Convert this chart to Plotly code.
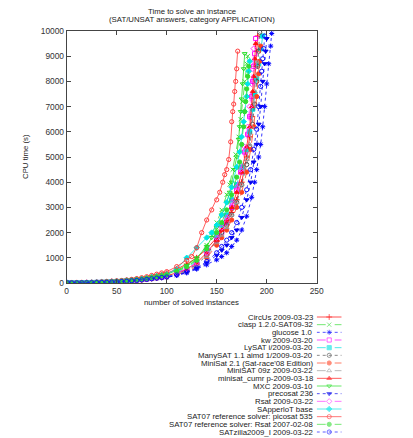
import plotly.graph_objects as go

W, H = 413, 438

names = [
    "CircUs 2009-03-23",
    "clasp 1.2.0-SAT09-32",
    "glucose 1.0",
    "kw 2009-03-20",
    "LySAT i/2009-03-20",
    "ManySAT 1.1 aimd 1/2009-03-20",
    "MiniSat 2.1 (Sat-race'08 Edition)",
    "MiniSAT 09z 2009-03-22",
    "minisat_cumr p-2009-03-18",
    "MXC 2009-03-10",
    "precosat 236",
    "Rsat 2009-03-22",
    "SApperloT base",
    "SAT07 reference solver: picosat 535",
    "SAT07 reference solver: Rsat 2007-02-08",
    "SATzilla2009_I 2009-03-22",
]

circus_x = [1, 5, 10, 15, 20, 25, 30, 35, 40, 45, 50, 55, 60, 65, 70, 75, 80, 85, 90, 95,
            100, 110, 120, 130, 140, 150, 155, 160, 165, 170, 175, 180, 183, 185, 187, 189, 190, 191]
circus_y = [2, 4, 7, 10, 15, 20, 26, 34, 45, 55, 66, 82, 100, 120, 140, 165, 200, 240, 285, 330,
            380, 550, 750, 1000, 1350, 1800, 2100, 2400, 2800, 3300, 4000, 5000, 5800, 6600, 7500, 8600, 9200, 9800]

clasp_x = [1, 5, 10, 15, 20, 25, 30, 35, 40, 45, 50, 55, 60, 65, 70, 75, 80, 85, 90, 95,
           100, 110, 120, 130, 140, 145, 150, 155, 160, 163, 166, 169, 172, 174, 176, 178, 180, 181]
clasp_y = [2, 4, 6, 9, 15, 19, 24, 31, 40, 50, 60, 74, 90, 108, 128, 152, 180, 215, 255, 290,
           330, 480, 650, 950, 1500, 1900, 2400, 2900, 3500, 3900, 4500, 5100, 5800, 6500, 7200, 8000, 8700, 9000]

glucose_x = [1, 5, 10, 15, 20, 25, 30, 35, 40, 45, 50, 55, 60, 65, 70, 75, 80, 85, 90, 95,
             100, 110, 120, 130, 140, 150, 155, 160, 165, 170, 175, 180, 185, 188, 190, 192, 194, 196, 198, 200, 202, 204, 205]
glucose_y = [2, 4, 6, 8, 10, 13, 17, 22, 30, 37, 45, 55, 70, 85, 100, 120, 140, 160, 180, 200,
             220, 300, 400, 550, 720, 920, 1050, 1200, 1450, 1700, 2100, 2650, 3400, 4000, 4500, 5000, 5500, 6200, 7000, 7900, 8700, 9400, 9900]

kw_x = [1, 5, 10, 15, 20, 25, 30, 35, 40, 45, 50, 55, 60, 65, 70, 75, 80, 85, 90, 95,
        100, 110, 120, 130, 140, 150, 155, 160, 165, 170, 174, 178, 181, 183, 185, 186, 187, 188, 189]
kw_y = [2, 4, 6, 9, 12, 16, 21, 28, 35, 44, 54, 66, 80, 96, 115, 136, 160, 190, 220, 250,
        280, 380, 520, 750, 1150, 1700, 2000, 2400, 3000, 3700, 4400, 5200, 5900, 6600, 7400, 8000, 8600, 9100, 9700]

lysat_x = [1, 5, 10, 15, 20, 25, 30, 35, 40, 45, 50, 55, 60, 65, 70, 75, 80, 85, 90, 95,
           100, 110, 120, 130, 140, 150, 155, 160, 165, 170, 175, 180, 183, 186, 188, 190, 192, 194, 196]
lysat_y = [2, 4, 7, 10, 14, 18, 24, 31, 40, 50, 60, 74, 90, 106, 125, 146, 170, 205, 240, 270,
           300, 420, 600, 850, 1300, 1900, 2300, 2700, 3300, 3900, 4600, 5300, 6000, 6900, 7500, 8100, 8700, 9300, 9800]

manysat_x = [1, 5, 10, 15, 20, 25, 30, 35, 40, 45, 50, 55, 60, 65, 70, 75, 80, 85, 90, 95,
             100, 110, 120, 130, 140, 150, 155, 160, 165, 170, 175, 180, 183, 186, 188, 190, 191, 192, 193]
manysat_y = [2, 4, 6, 9, 12, 16, 21, 28, 35, 44, 54, 66, 80, 95, 113, 135, 160, 185, 215, 240,
             270, 370, 500, 730, 1100, 1700, 2000, 2300, 2700, 3200, 3900, 4700, 5400, 6300, 7100, 8000, 8600, 9200, 9950]

minisat21_x = [1, 5, 10, 15, 20, 25, 30, 35, 40, 45, 50, 55, 60, 65, 70, 75, 80, 85, 90, 95,
               100, 110, 120, 130, 140, 150, 155, 160, 165, 170, 175, 180, 184, 187, 190, 192, 193, 194]
minisat21_y = [2, 3, 5, 8, 10, 13, 17, 23, 30, 37, 45, 57, 70, 84, 100, 120, 140, 165, 190, 215,
               240, 330, 450, 650, 1000, 1500, 1800, 2100, 2500, 3000, 3600, 4400, 5300, 6200, 7400, 8300, 8800, 9400]

minisat09z_x = [1, 5, 10, 15, 20, 25, 30, 35, 40, 45, 50, 55, 60, 65, 70, 75, 80, 85, 90, 95,
                100, 110, 120, 130, 140, 150, 155, 160, 165, 170, 175, 180, 183, 185, 187, 188, 189, 190]
minisat09z_y = [2, 4, 6, 9, 12, 15, 20, 26, 33, 41, 50, 62, 75, 90, 108, 128, 150, 175, 205, 230,
                260, 350, 480, 700, 1050, 1600, 1900, 2200, 2700, 3200, 3900, 4900, 5500, 6200, 7000, 7600, 8200, 8800]

cumr_x = [1, 5, 10, 15, 20, 25, 30, 35, 40, 45, 50, 55, 60, 65, 70, 75, 80, 85, 90, 95,
          100, 110, 120, 130, 140, 150, 155, 160, 165, 170, 175, 180, 183, 185, 186, 187, 188, 189]
cumr_y = [2, 4, 6, 9, 13, 17, 22, 29, 38, 47, 57, 70, 85, 102, 122, 145, 170, 200, 230, 260,
          290, 400, 550, 800, 1200, 1700, 2100, 2500, 3000, 3600, 4400, 5400, 6200, 7000, 7600, 8200, 8900, 9500]

mxc_x = [1, 5, 10, 15, 20, 25, 30, 35, 40, 45, 50, 55, 60, 65, 70, 75, 80, 85, 90, 95,
         100, 110, 120, 130, 140, 145, 150, 155, 160, 163, 165, 168, 170, 172, 173, 174, 175, 176, 177, 178]
mxc_y = [2, 4, 7, 10, 15, 19, 25, 33, 42, 52, 63, 78, 95, 113, 135, 160, 190, 225, 265, 300,
         340, 500, 700, 1000, 1450, 1800, 2200, 2700, 3200, 3600, 4000, 4500, 5000, 5700, 6200, 6800, 7300, 7900, 8500, 9100]

precosat_x = [1, 5, 10, 15, 20, 25, 30, 35, 40, 45, 50, 55, 60, 65, 70, 75, 80, 85, 90, 95,
              100, 110, 120, 130, 140, 150, 155, 160, 165, 170, 175, 180, 184, 187, 190, 192, 194, 196, 198, 199, 200]
precosat_y = [2, 4, 6, 8, 10, 13, 17, 23, 30, 37, 45, 56, 70, 84, 100, 120, 140, 165, 190, 210,
              230, 310, 420, 580, 800, 1100, 1300, 1500, 1800, 2100, 2600, 3300, 4000, 4800, 5500, 6300, 7000, 8000, 8700, 9200, 9700]

rsat_x = [1, 5, 10, 15, 20, 25, 30, 35, 40, 45, 50, 55, 60, 65, 70, 75, 80, 85, 90, 95,
          100, 110, 120, 130, 140, 150, 155, 160, 165, 170, 174, 178, 181, 183, 185, 186, 187]
rsat_y = [2, 4, 6, 9, 13, 17, 22, 29, 37, 46, 56, 70, 85, 102, 122, 145, 170, 200, 230, 260,
          290, 400, 560, 800, 1200, 1800, 2200, 2600, 3200, 3800, 4500, 5400, 6200, 7000, 7900, 8500, 9300]

sapperlot_x = [1, 5, 10, 15, 20, 25, 30, 35, 40, 45, 50, 55, 60, 65, 70, 75, 80, 85, 90, 95,
               100, 110, 120, 130, 140, 145, 150, 155, 160, 165, 170, 173, 175, 177, 178, 180, 181, 182, 183]
sapperlot_y = [2, 4, 7, 10, 15, 20, 26, 34, 45, 55, 66, 82, 100, 120, 142, 168, 200, 240, 280, 320,
               360, 550, 1000, 1400, 1800, 2000, 2300, 2700, 3200, 3800, 4600, 5200, 5800, 6400, 6800, 7400, 7900, 8400, 8800]

picosat_x = [1, 5, 10, 15, 20, 25, 30, 35, 40, 45, 50, 55, 60, 65, 70, 75, 80, 85, 90, 95,
             100, 110, 120, 125, 130, 135, 140, 145, 150, 153, 156, 158, 160, 162, 164, 165, 166, 167, 168, 169, 170, 171]
picosat_y = [2, 5, 8, 13, 20, 26, 34, 45, 60, 72, 85, 100, 120, 145, 175, 210, 250, 300, 350, 400,
             450, 650, 900, 1050, 1400, 2000, 2500, 2900, 3300, 3600, 4000, 4300, 4500, 4900, 5600, 6400, 6800, 7100, 7600, 8000, 8500, 9200]

sat07rsat_x = [1, 5, 10, 15, 20, 25, 30, 35, 40, 45, 50, 55, 60, 65, 70, 75, 80, 85, 90, 95,
               100, 110, 120, 130, 140, 150, 155, 160, 165, 170, 173, 175, 177, 178, 179, 180, 181, 182]
sat07rsat_y = [2, 4, 7, 10, 14, 18, 24, 31, 40, 50, 60, 74, 90, 107, 128, 152, 180, 215, 250, 285,
               320, 460, 640, 900, 1350, 2000, 2400, 2900, 3500, 4200, 4800, 5500, 6200, 6800, 7200, 7700, 8200, 8600]

satzilla_x = [1, 5, 10, 15, 20, 25, 30, 35, 40, 45, 50, 55, 60, 65, 70, 75, 80, 85, 90, 95,
              100, 110, 120, 130, 140, 150, 155, 160, 165, 170, 175, 180, 184, 187, 190, 192, 194, 195, 196, 197, 198]
satzilla_y = [2, 4, 6, 8, 10, 13, 17, 23, 30, 38, 46, 58, 72, 87, 104, 124, 145, 170, 195, 220,
              240, 320, 440, 600, 850, 1200, 1450, 1700, 2000, 2400, 3000, 3700, 4500, 5300, 6100, 7000, 7800, 8400, 8900, 9300, 9800]

series_x = [circus_x, clasp_x, glucose_x, kw_x, lysat_x, manysat_x, minisat21_x, minisat09z_x,
            cumr_x, mxc_x, precosat_x, rsat_x, sapperlot_x, picosat_x, sat07rsat_x, satzilla_x]
series_y = [circus_y, clasp_y, glucose_y, kw_y, lysat_y, manysat_y, minisat21_y, minisat09z_y,
            cumr_y, mxc_y, precosat_y, rsat_y, sapperlot_y, picosat_y, sat07rsat_y, satzilla_y]

x_ticks = [0, 50, 100, 150, 200, 250]
x_tick_labels = ["0", "50", "100", "150", "200", "250"]
y_ticks = [0, 1000, 2000, 3000, 4000, 5000, 6000, 7000, 8000, 9000, 10000]
y_tick_labels = ["0", "1000", "2000", "3000", "4000", "5000", "6000", "7000", "8000", "9000", "10000"]

# styles
colors = ["#ff0000", "#33dd33", "#0000ff", "#ff00ff", "#00e0e0", "#505050", "#ff4020", "#9a9a9a",
          "#ff1010", "#22dd22", "#0000ee", "#ff33ff", "#00e5e5", "#ff3b3b", "#33dd33", "#1010ff"]
symbols = ["cross-thin-open", "x-thin-open", "asterisk-open", "square-open", "square", "circle-open",
           "circle", "triangle-up-open", "triangle-up", "triangle-down-open", "triangle-down",
           "diamond-open", "diamond", "circle-open", "circle", "circle-open"]
dashes = ["solid", "dash", "dot", "dash", "dash", "dot", "dash", "dash", "solid", "solid", "dot",
          "dash", "solid", "solid", "dash", "dot"]

FONT = "Liberation Sans, Arial, sans-serif"
TOP = 30  # top margin in px


def fx(px):
    return px / W


def fy(py):
    return (H - py) / (H - TOP)


fig = go.Figure()

for i in range(len(names)):
    fig.add_trace(go.Scatter(
        x=series_x[i], y=series_y[i], mode="lines+markers", name=names[i],
        line=dict(color=colors[i], width=0.8, dash=dashes[i]),
        marker=dict(symbol=symbols[i], size=4.2, color=colors[i],
                    line=dict(color=colors[i], width=1)),
        xaxis="x", yaxis="y", showlegend=False,
    ))

# manual gnuplot-style key: text right-aligned, sample to the right
for i in range(len(names)):
    fig.add_trace(go.Scatter(
        x=[0.0, 0.5, 1.0], y=[i, i, i], mode="lines+markers",
        line=dict(color=colors[i], width=0.8, dash=dashes[i]),
        marker=dict(symbol=symbols[i], size=[0, 4.2, 0], color=colors[i],
                    line=dict(color=colors[i], width=1)),
        opacity=0.85,
        xaxis="x2", yaxis="y2", showlegend=False, hoverinfo="skip",
    ))

annotations = []
for i, n in enumerate(names):
    annotations.append(dict(text=n, x=0, y=i, xref="x2", yref="y2", xanchor="right",
                            yanchor="middle", xshift=-3, showarrow=False, borderpad=0,
                            font=dict(family=FONT, size=7.8, color="#222")))

annotations += [
    dict(text="Time to solve an instance", x=fx(192), y=fy(12), xref="paper", yref="paper",
         xanchor="center", yanchor="middle", showarrow=False, borderpad=0,
         font=dict(family=FONT, size=7.8, color="#222")),
    dict(text="(SAT/UNSAT answers, category APPLICATION)", x=fx(192), y=fy(19.5), xref="paper",
         yref="paper", xanchor="center", yanchor="middle", showarrow=False, borderpad=0,
         font=dict(family=FONT, size=7.8, color="#222")),
    dict(text="CPU time (s)", x=fx(25), y=fy(157), xref="paper", yref="paper", textangle=-90,
         xanchor="center", yanchor="middle", showarrow=False, font=dict(family=FONT, size=7.8, color="#222")),
    dict(text="number of solved instances", x=fx(191), y=fy(302), xref="paper", yref="paper",
         xanchor="center", yanchor="middle", showarrow=False, font=dict(family=FONT, size=7.8, color="#222")),
]

first_row = 317.0
last_row = 432.0
row_px = (last_row - first_row) / 15
key_top = 312.0
fig.update_layout(
    width=W, height=H, autosize=False,
    margin=dict(l=0, r=0, t=TOP, b=0, pad=0),
    paper_bgcolor="white", plot_bgcolor="white",
    showlegend=False,
    annotations=annotations,
    xaxis=dict(domain=[fx(66.7), fx(316.7)], range=[0, 250], tickvals=x_ticks, ticktext=x_tick_labels,
               ticks="inside", ticklen=4, tickcolor="#444", showline=True, linecolor="#444",
               linewidth=1, mirror="ticks", showgrid=False, zeroline=False, automargin=False,
               tickfont=dict(family=FONT, size=8.4, color="#333"), anchor="y"),
    yaxis=dict(domain=[fy(283), fy(31)], range=[0, 10000], tickvals=y_ticks, ticktext=y_tick_labels,
               ticks="inside", ticklen=4, tickcolor="#444", showline=True, linecolor="#444",
               linewidth=1, mirror="ticks", showgrid=False, zeroline=False, automargin=False,
               tickfont=dict(family=FONT, size=8.4, color="#333"), anchor="x"),
    xaxis2=dict(domain=[fx(316.7), fx(341.7)], range=[0, 1], visible=False, anchor="y2"),
    yaxis2=dict(domain=[fy(H), fy(key_top)],
                range=[15 + (H - last_row) / row_px, -(first_row - key_top) / row_px],
                visible=False, anchor="x2"),
)

fig.write_html(
    "out.html",
    config={"displayModeBar": False, "responsive": False},
    post_script=("document.documentElement.style.overflow='hidden';"
                 "document.body.style.margin='0';document.body.style.padding='0';"
                 "document.body.style.overflow='hidden';"),
)
